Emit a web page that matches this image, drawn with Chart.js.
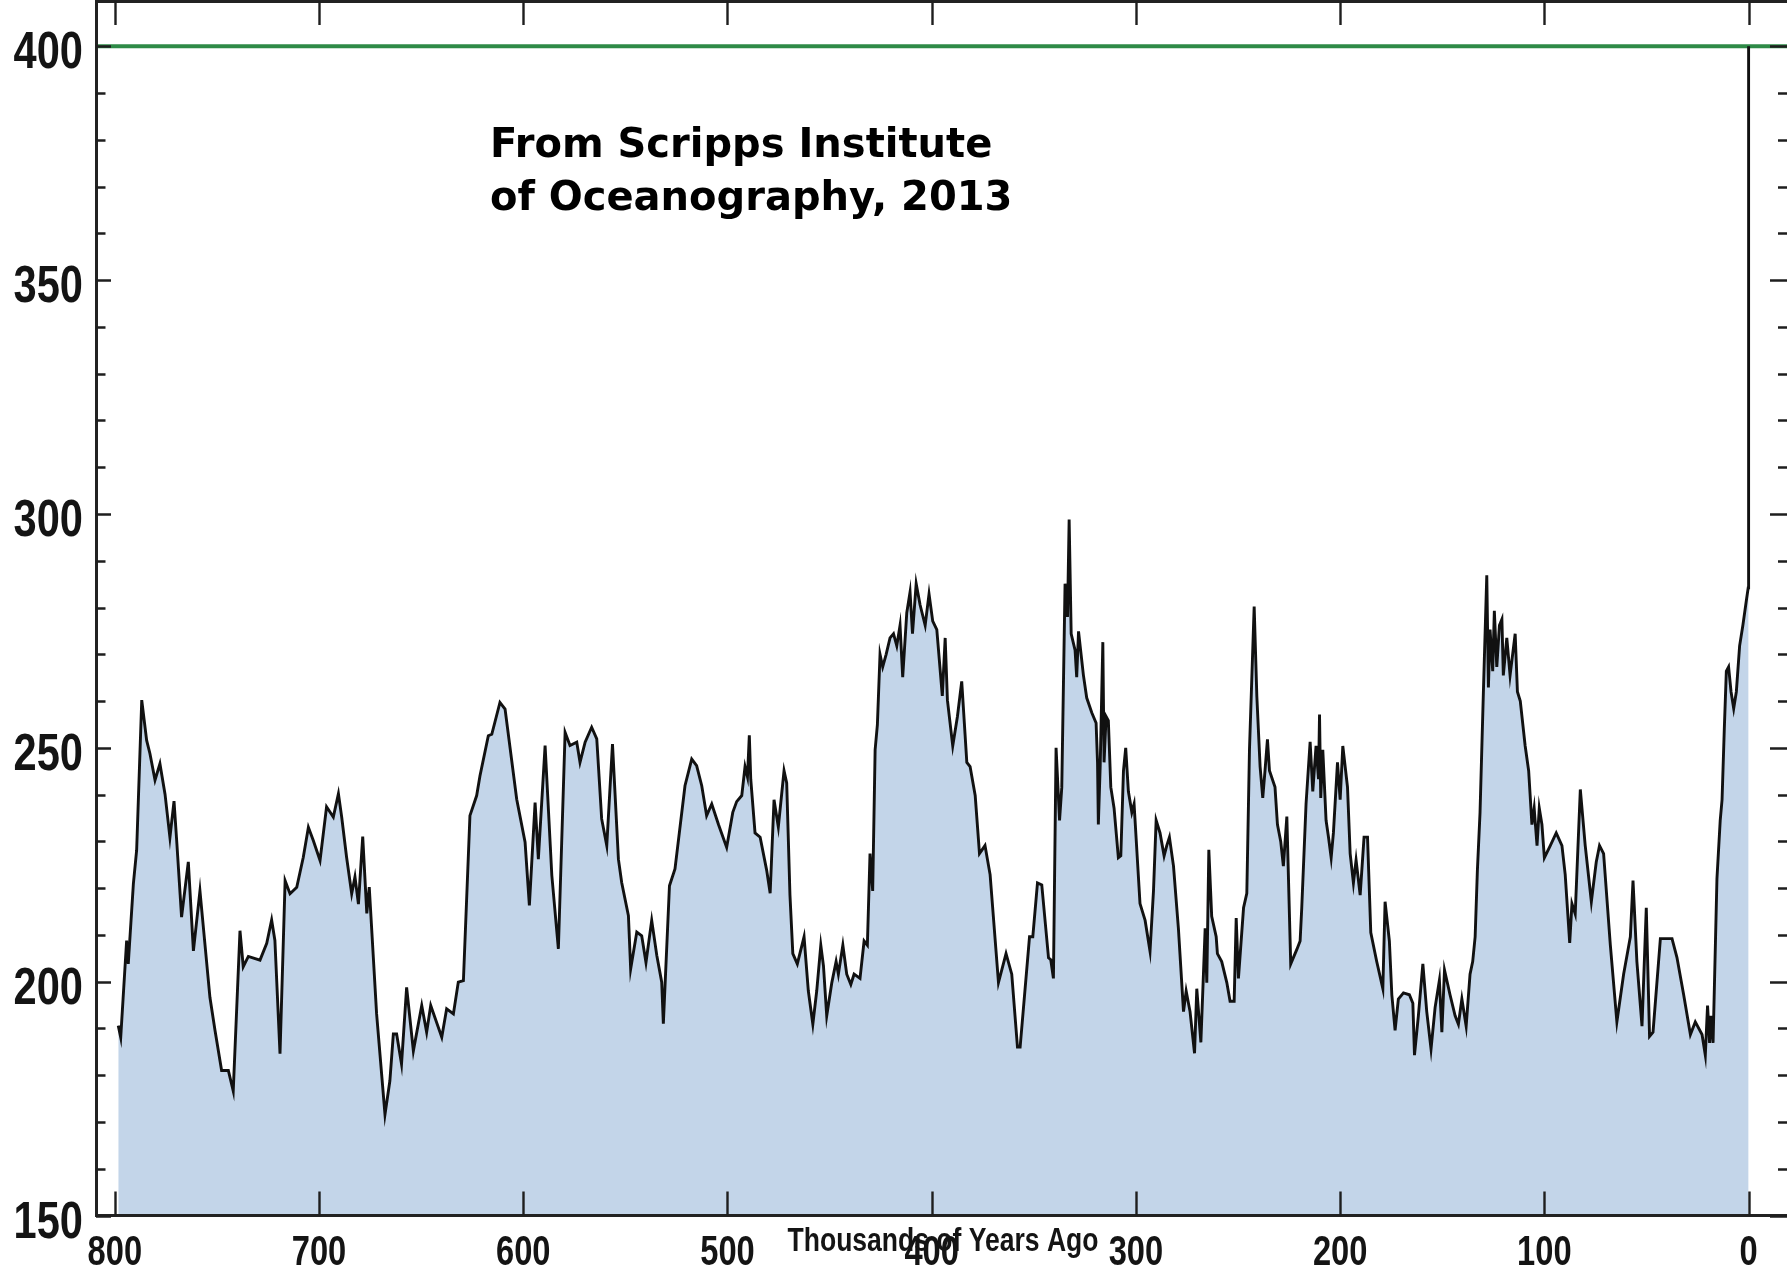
<!DOCTYPE html>
<html>
<head>
<meta charset="utf-8">
<title>Atmospheric CO2 over the last 800,000 years</title>
<script src="https://cdn.jsdelivr.net/npm/chart.js@4.4.1/dist/chart.umd.min.js"></script>
<style>
  html, body { margin: 0; padding: 0; background: #fff; overflow: hidden; }
  /* the frame's right edge sits just past the visible page */
  #wrap { position: relative; width: 1790px; height: 1275px; }
</style>
</head>
<body>
<div id="wrap"><canvas id="co2"></canvas></div>
<script>
// Ice-core CO2 record: age in thousands of years before present, CO2 in ppmv
const ages = [
  798.3, 797.1, 794.2, 793.4, 790.9, 789.3, 786.8, 784.4, 782.8, 780.3,
  777.9, 775.4, 773.0, 771.0, 769.7, 767.3, 764.0, 761.5, 758.3, 753.4,
  750.9, 747.7, 744.4, 742.0, 738.7, 737.1, 734.6, 728.9, 725.6, 723.2,
  721.6, 719.1, 716.6, 714.2, 710.9, 707.7, 705.2, 702.8, 699.5, 696.3,
  693.0, 690.5, 688.9, 686.5, 684.0, 682.4, 680.7, 678.6, 676.6, 675.4,
  671.8, 667.7, 665.3, 663.6, 662.0, 659.6, 657.1, 653.8, 649.7, 647.3,
  645.3, 639.9, 637.5, 634.2, 631.8, 629.3, 626.1, 622.8, 621.2, 617.1,
  615.4, 611.4, 608.9, 603.2, 599.1, 597.0, 594.2, 592.6, 589.3, 586.0,
  582.8, 579.5, 577.1, 573.8, 572.2, 569.7, 566.5, 564.0, 561.6, 559.1,
  556.3, 553.4, 551.8, 548.5, 547.4, 544.4, 542.0, 539.9, 537.1, 534.6,
  532.2, 531.4, 528.4, 525.7, 520.8, 517.5, 515.1, 512.6, 510.2, 507.7,
  504.4, 500.4, 497.4, 495.5, 493.0, 491.4, 490.2, 489.3, 488.6, 486.5,
  484.0, 480.8, 479.1, 477.2, 475.1, 472.3, 471.0, 469.4, 468.0, 465.8,
  462.5, 460.4, 458.2, 456.3, 454.3, 453.0, 451.4, 448.9, 446.8, 445.7,
  443.5, 441.6, 439.6, 438.0, 435.1, 433.1, 431.5, 430.2, 428.9, 427.7,
  426.6, 425.3, 424.0, 422.3, 420.4, 418.7, 417.1, 415.5, 414.2, 412.2,
  410.6, 409.4, 407.6, 405.7, 403.2, 401.3, 399.5, 397.5, 394.8, 393.4,
  392.3, 389.7, 387.4, 385.3, 382.8, 381.2, 378.7, 376.6, 373.9, 371.4,
  367.3, 363.6, 360.8, 358.0, 356.7, 352.1, 350.5, 348.2, 346.1, 342.8,
  341.7, 340.4, 339.1, 337.4, 336.3, 334.7, 333.5, 332.7, 331.7, 329.8,
  329.0, 328.1, 325.7, 324.1, 321.6, 319.5, 318.8, 318.4, 317.5, 316.2,
  315.6, 314.6, 313.5, 312.3, 310.7, 308.6, 307.4, 306.1, 305.0, 303.7,
  302.0, 300.9, 298.0, 295.5, 293.1, 291.4, 290.1, 288.2, 286.2, 284.9,
  283.6, 281.6, 279.2, 276.7, 275.4, 273.5, 271.3, 270.2, 268.2, 266.1,
  265.3, 264.3, 262.9, 260.7, 260.1, 258.0, 255.5, 253.9, 251.9, 250.9,
  249.8, 247.3, 245.7, 244.4, 242.1, 240.8, 239.2, 237.9, 236.8, 235.6,
  234.6, 231.9, 230.7, 229.1, 227.8, 226.1, 224.2, 221.2, 219.6, 218.8,
  216.7, 214.7, 213.4, 211.8, 210.6, 210.1, 209.5, 208.5, 206.9, 205.7,
  204.4, 203.3, 201.3, 200.0, 198.7, 196.4, 195.1, 193.5, 192.2, 190.2,
  188.3, 186.6, 185.0, 182.1, 179.1, 178.0, 175.9, 174.7, 173.1, 171.5,
  169.0, 166.1, 164.4, 163.6, 161.7, 159.5, 157.6, 155.5, 153.5, 151.4,
  150.2, 148.9, 146.2, 143.7, 142.1, 140.4, 138.3, 136.4, 135.1, 133.9,
  132.8, 131.5, 129.8, 128.2, 127.4, 126.6, 125.3, 124.5, 123.3, 122.0,
  120.8, 120.1, 118.4, 116.8, 114.3, 113.2, 111.8, 109.4, 107.7, 106.1,
  105.0, 103.6, 102.5, 101.2, 100.0, 97.1, 94.2, 91.4, 89.8, 87.6,
  86.5, 84.9, 82.4, 80.0, 77.0, 74.6, 73.0, 71.0, 67.7, 64.5,
  61.2, 57.9, 56.6, 54.7, 52.2, 50.1, 48.5, 46.8, 43.2, 37.5,
  35.1, 31.8, 28.5, 26.1, 22.8, 21.2, 20.1, 19.1, 18.4, 17.4,
  15.5, 13.9, 13.0, 11.9, 10.9, 9.8, 8.6, 7.3, 6.0, 4.4,
  2.8, 1.1, 0.2, 0.0
];
const co2ppm = [
  190.6, 188.1, 208.8, 203.8, 220.9, 228.1, 260.2, 251.6, 248.8, 243.1,
  246.6, 240.1, 230.8, 238.6, 230.2, 213.8, 225.6, 206.6, 219.4, 196.6,
  189.5, 181.0, 181.0, 176.6, 210.9, 203.2, 205.4, 204.6, 208.2, 213.2,
  208.8, 184.6, 221.6, 218.8, 220.2, 226.6, 233.0, 230.2, 225.9, 237.4,
  235.2, 240.2, 235.2, 226.6, 218.8, 222.4, 216.6, 231.0, 214.6, 220.2,
  193.1, 171.6, 178.8, 188.8, 188.8, 182.4, 198.8, 185.2, 194.9, 189.2,
  194.9, 188.1, 194.2, 193.1, 199.9, 200.2, 235.5, 239.8, 244.0, 252.6,
  252.9, 259.7, 258.3, 239.0, 229.8, 216.3, 238.3, 226.2, 250.5, 222.7,
  207.0, 253.3, 250.5, 251.2, 246.9, 251.2, 254.4, 251.9, 234.8, 229.1,
  250.8, 226.2, 221.2, 214.1, 202.7, 210.6, 209.8, 204.1, 213.1, 205.6,
  199.9, 191.0, 220.5, 224.1, 241.9, 247.6, 246.2, 241.9, 235.5, 238.0,
  233.6, 228.7, 236.2, 238.5, 239.8, 246.0, 243.8, 252.7, 243.3, 231.8,
  230.9, 223.8, 218.9, 238.9, 233.1, 245.1, 242.5, 218.5, 206.0, 203.8,
  209.6, 198.0, 190.9, 198.0, 207.8, 203.4, 192.7, 199.8, 204.3, 201.6,
  207.8, 201.6, 199.4, 201.6, 200.7, 208.7, 207.8, 227.4, 219.4, 249.6,
  254.9, 270.0, 267.3, 270.0, 273.5, 274.4, 271.8, 276.2, 265.1, 278.9,
  283.3, 274.4, 285.1, 280.6, 276.2, 282.9, 277.1, 275.3, 261.1, 273.5,
  260.2, 250.4, 256.7, 264.2, 246.9, 246.0, 239.8, 227.4, 229.1, 222.9,
  199.8, 206.0, 201.6, 186.0, 186.0, 209.6, 209.6, 221.1, 220.7, 205.1,
  204.7, 200.7, 250.0, 234.5, 241.6, 285.1, 278.0, 298.8, 274.4, 270.9,
  265.1, 274.9, 265.5, 260.7, 257.5, 255.3, 246.9, 233.6, 246.0, 272.6,
  246.9, 256.7, 255.8, 241.6, 237.1, 226.5, 226.9, 245.1, 250.0, 240.7,
  236.2, 238.0, 216.7, 213.1, 206.5, 219.4, 234.5, 231.8, 226.9, 229.1,
  230.9, 224.7, 211.4, 193.6, 198.0, 193.6, 184.7, 198.5, 187.0, 211.4,
  199.8, 228.2, 214.0, 209.6, 206.0, 204.3, 199.8, 195.8, 195.8, 213.6,
  200.7, 215.8, 218.9, 249.6, 280.2, 261.1, 246.0, 239.3, 245.1, 251.8,
  245.1, 241.6, 233.6, 230.0, 224.7, 235.3, 203.8, 206.9, 208.7, 215.8,
  238.0, 251.3, 240.7, 250.4, 243.3, 257.1, 239.3, 249.6, 234.5, 230.9,
  226.5, 231.8, 246.9, 238.9, 250.4, 241.6, 227.4, 221.1, 226.0, 218.5,
  230.9, 230.9, 210.5, 204.3, 198.5, 217.1, 208.7, 197.2, 189.6, 196.3,
  197.6, 197.2, 195.4, 184.3, 192.7, 203.8, 193.6, 185.6, 194.5, 200.3,
  189.2, 202.5, 197.2, 192.7, 190.9, 196.3, 190.5, 201.6, 204.3, 209.6,
  223.8, 236.2, 262.9, 286.9, 262.9, 275.3, 266.4, 279.3, 267.3, 276.2,
  277.5, 265.5, 273.5, 265.5, 274.4, 262.0, 260.0, 250.4, 245.1, 233.6,
  237.1, 229.1, 237.1, 233.6, 226.5, 229.1, 231.8, 229.1, 222.9, 208.3,
  216.7, 214.5, 241.1, 229.1, 217.1, 225.6, 229.1, 227.4, 207.8, 191.4,
  201.6, 209.6, 221.6, 204.3, 190.5, 215.8, 188.3, 189.2, 209.2, 209.2,
  205.2, 197.2, 188.7, 191.4, 188.7, 184.3, 194.9, 186.9, 192.7, 186.9,
  222.0, 234.5, 238.9, 254.0, 266.4, 267.3, 262.0, 258.4, 262.0, 271.8,
  276.2, 281.5, 284.2, 400.0
];

// Present-day level drawn as a horizontal reference line
const presentLevel = 400;

// Axis ranges and tick labels
const ageRange = [-20.27, 809.2];
const co2Range = [150, 409.7];
const xTickLabels = [800, 700, 600, 500, 400, 300, 200, 100, 0];
const yTickLabels = [150, 200, 250, 300, 350, 400];
const yMinorStep = 10;
const xAxisTitle = 'Thousands of Years Ago';
const noteLines = ['From Scripps Institute', 'of Oceanography, 2013'];

const LABEL_FAMILY = "'Liberation Sans', Arial, sans-serif";
const INK = '#141414';

// Inward-pointing tick marks on all four sides of the frame
const frameTicks = {
  id: 'frameTicks',
  afterDraw(chart, args, o) {
    const { ctx, chartArea: a, scales: { x, y } } = chart;
    ctx.save();
    ctx.strokeStyle = o.color;
    ctx.lineWidth = o.width;
    ctx.beginPath();
    for (let v = co2Range[0]; v <= co2Range[1]; v += yMinorStep) {
      const py = Math.round(y.getPixelForValue(v)) + 0.5;
      const major = yTickLabels.includes(v);
      ctx.moveTo(a.left, py); ctx.lineTo(a.left + (major ? o.yMajor : o.yMinor), py);
      ctx.moveTo(a.right, py); ctx.lineTo(a.right - (major ? o.rMajor : o.rMinor), py);
    }
    for (const v of xTickLabels) {
      const px = Math.round(x.getPixelForValue(v)) + 0.5;
      ctx.moveTo(px, a.bottom); ctx.lineTo(px, a.bottom - o.xLen);
      ctx.moveTo(px, a.top); ctx.lineTo(px, a.top + o.xLen);
    }
    ctx.stroke();
    ctx.restore();
  }
};

// Condensed tick labels and axis title, placed from the scales' own ticks
function squeezedText(ctx, text, x, y, squeeze, align) {
  ctx.save();
  ctx.translate(x, y);
  ctx.scale(squeeze, 1);
  ctx.textAlign = align;
  ctx.fillText(text, 0, 0);
  ctx.restore();
}
const axisText = {
  id: 'axisText',
  afterDraw(chart, args, o) {
    const { ctx, chartArea: a, scales: { x, y } } = chart;
    ctx.save();
    ctx.fillStyle = o.color;
    ctx.textBaseline = 'alphabetic';
    ctx.font = `bold ${o.ySize}px ${o.family}`;
    for (const t of y.ticks) {
      squeezedText(ctx, String(t.value), a.left - o.yPad, y.getPixelForValue(t.value) + o.yBase, o.ySqueeze, 'right');
    }
    ctx.font = `bold ${o.xSize}px ${o.family}`;
    for (const t of x.ticks) {
      squeezedText(ctx, String(t.value), x.getPixelForValue(t.value), a.bottom + o.xBase, o.xSqueeze, 'center');
    }
    ctx.font = `bold ${o.titleSize}px ${o.family}`;
    squeezedText(ctx, o.title, (a.left + a.right) / 2, a.bottom + o.titleBase, o.titleSqueeze, 'center');
    ctx.restore();
  }
};

// Source note placed inside the plot, anchored to the axes
const sourceNote = {
  id: 'sourceNote',
  afterDraw(chart, args, o) {
    const { ctx, scales: { x, y } } = chart;
    ctx.save();
    ctx.font = o.font;
    ctx.fillStyle = o.color;
    ctx.textAlign = 'left';
    ctx.textBaseline = 'alphabetic';
    const px = x.getPixelForValue(o.age);
    const py = y.getPixelForValue(o.level);
    o.lines.forEach((t, i) => ctx.fillText(t, px, py + i * o.lineGap));
    ctx.restore();
  }
};

const hiddenGrid = { display: false, drawTicks: false };
const frameBorder = { display: true, color: '#222', width: 3, z: 1 };
const noPadding = s => { s.paddingTop = 0; s.paddingBottom = 0; s.paddingLeft = 0; s.paddingRight = 0; };

new Chart(document.getElementById('co2'), {
  type: 'line',
  data: {
    datasets: [
      {
        label: 'CO2 (ppmv)',
        data: ages.map((a, i) => ({ x: a, y: co2ppm[i] })),
        borderColor: '#111',
        borderWidth: 2.9,
        borderJoin: 'round',
        backgroundColor: '#c3d5e9',
        fill: 'start',
        pointRadius: 0,
        tension: 0
      },
      {
        label: 'Present level',
        data: [{ x: ageRange[1], y: presentLevel }, { x: ageRange[0], y: presentLevel }],
        borderColor: '#2e8a47',
        borderWidth: 4,
        pointRadius: 0,
        fill: false
      }
    ]
  },
  options: {
    responsive: true,
    maintainAspectRatio: false,
    animation: false,
    events: [],
    layout: { padding: { top: 1, right: 0, bottom: 0, left: 0 } },
    plugins: {
      legend: { display: false },
      tooltip: { enabled: false },
      frameTicks: { color: '#1e1e1e', width: 2.4, yMajor: 15, yMinor: 9.5, rMajor: 20, rMinor: 12, xLen: 24 },
      axisText: {
        color: INK, family: LABEL_FAMILY,
        ySize: 52, ySqueeze: 0.8, yPad: 13, yBase: 22,
        xSize: 43, xSqueeze: 0.76, xBase: 49,
        title: xAxisTitle, titleSize: 34, titleSqueeze: 0.78, titleBase: 35
      },
      sourceNote: {
        lines: noteLines,
        font: "bold 40px 'Comic Sans MS', 'DejaVu Sans', sans-serif",
        color: '#000',
        age: 616.3,
        level: 376.35,
        lineGap: 53
      }
    },
    scales: {
      x: {
        type: 'linear', position: 'bottom', reverse: true,
        min: ageRange[0], max: ageRange[1],
        afterBuildTicks: s => { s.ticks = xTickLabels.map(v => ({ value: v })); },
        afterFit: s => { s.height = 59.5; noPadding(s); },
        grid: hiddenGrid, border: frameBorder,
        ticks: { display: false }
      },
      x2: {
        type: 'linear', position: 'top', reverse: true,
        min: ageRange[0], max: ageRange[1],
        afterFit: s => { s.height = 0; noPadding(s); },
        grid: hiddenGrid, border: frameBorder,
        ticks: { display: false }
      },
      y: {
        type: 'linear', position: 'left',
        min: co2Range[0], max: co2Range[1],
        afterBuildTicks: s => { s.ticks = yTickLabels.map(v => ({ value: v })); },
        afterFit: s => { s.width = 96; noPadding(s); },
        grid: hiddenGrid, border: frameBorder,
        ticks: { display: false }
      },
      y2: {
        type: 'linear', position: 'right',
        min: co2Range[0], max: co2Range[1],
        afterFit: s => { s.width = 0; noPadding(s); },
        grid: hiddenGrid, border: frameBorder,
        ticks: { display: false }
      }
    }
  },
  plugins: [frameTicks, axisText, sourceNote]
});
</script>
</body>
</html>
